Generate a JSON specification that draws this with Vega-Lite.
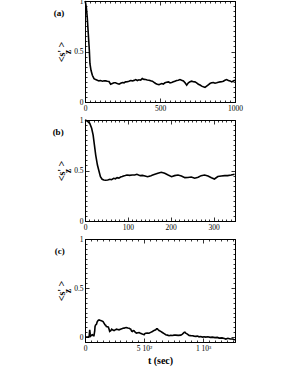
{
  "$schema": "https://vega.github.io/schema/vega-lite/v6.json",
  "padding": {"left": 52, "top": -4, "right": 5, "bottom": 5},
  "spacing": 18,
  "bounds": "flush",
  "config": {
    "view": {"stroke": "black", "strokeWidth": 1},
    "axis": {"domain": true, "domainColor": "black", "domainWidth": 1, "tickColor": "black", "tickWidth": 0.8, "grid": false, "labelFont": "Liberation Serif", "labelFontSize": 7.5, "labelColor": "black", "labelFlush": false, "labelOverlap": false, "labelPadding": 6, "titleFont": "Liberation Serif", "titleFontWeight": "bold", "titleColor": "black", "titleFontSize": 10, "format": "d"},
    "line": {"color": "black", "strokeWidth": 1.6},
    "title": {"font": "Liberation Serif", "fontWeight": "bold", "fontSize": 9, "color": "black", "orient": "left", "anchor": "end", "frame": "group", "angle": 0, "align": "left", "baseline": "top", "offset": -18, "lineHeight": 8}
  },
  "datasets": {
    "a": [
      {"t":0,"v":1.0},{"t":4,"v":0.98},{"t":9,"v":0.935},{"t":15,"v":0.837},{"t":22,"v":0.673},{"t":29,"v":0.51},{"t":33,"v":0.379},{"t":40,"v":0.314},{"t":49,"v":0.265},{"t":60,"v":0.232},{"t":71,"v":0.222},{"t":82,"v":0.216},{"t":93,"v":0.209},{"t":104,"v":0.212},{"t":116,"v":0.206},{"t":127,"v":0.21},{"t":138,"v":0.209},{"t":149,"v":0.205},{"t":160,"v":0.203},{"t":171,"v":0.176},{"t":182,"v":0.183},{"t":193,"v":0.19},{"t":204,"v":0.19},{"t":215,"v":0.182},{"t":227,"v":0.176},{"t":238,"v":0.186},{"t":249,"v":0.193},{"t":260,"v":0.19},{"t":271,"v":0.199},{"t":282,"v":0.2},{"t":293,"v":0.206},{"t":304,"v":0.213},{"t":316,"v":0.209},{"t":327,"v":0.214},{"t":338,"v":0.222},{"t":349,"v":0.213},{"t":360,"v":0.22},{"t":371,"v":0.216},{"t":382,"v":0.232},{"t":393,"v":0.224},{"t":404,"v":0.222},{"t":415,"v":0.218},{"t":427,"v":0.216},{"t":438,"v":0.21},{"t":449,"v":0.206},{"t":460,"v":0.195},{"t":471,"v":0.183},{"t":482,"v":0.176},{"t":493,"v":0.172},{"t":511,"v":0.183},{"t":522,"v":0.178},{"t":533,"v":0.19},{"t":544,"v":0.196},{"t":556,"v":0.199},{"t":567,"v":0.19},{"t":578,"v":0.193},{"t":589,"v":0.2},{"t":600,"v":0.206},{"t":611,"v":0.212},{"t":622,"v":0.216},{"t":633,"v":0.222},{"t":644,"v":0.215},{"t":656,"v":0.209},{"t":667,"v":0.19},{"t":678,"v":0.167},{"t":689,"v":0.19},{"t":700,"v":0.2},{"t":711,"v":0.206},{"t":722,"v":0.2},{"t":733,"v":0.199},{"t":744,"v":0.19},{"t":756,"v":0.176},{"t":767,"v":0.168},{"t":778,"v":0.157},{"t":789,"v":0.15},{"t":800,"v":0.144},{"t":811,"v":0.157},{"t":822,"v":0.17},{"t":833,"v":0.183},{"t":844,"v":0.19},{"t":856,"v":0.193},{"t":867,"v":0.186},{"t":878,"v":0.19},{"t":889,"v":0.196},{"t":900,"v":0.199},{"t":911,"v":0.2},{"t":922,"v":0.206},{"t":933,"v":0.215},{"t":944,"v":0.222},{"t":956,"v":0.213},{"t":967,"v":0.209},{"t":978,"v":0.199},{"t":989,"v":0.208},{"t":1000,"v":0.216}
    ],
    "b": [
      {"t":0,"v":1.0},{"t":5,"v":0.99},{"t":11,"v":0.967},{"t":15.5,"v":0.918},{"t":19,"v":0.851},{"t":22,"v":0.752},{"t":25,"v":0.653},{"t":29,"v":0.554},{"t":33,"v":0.488},{"t":36,"v":0.439},{"t":40,"v":0.413},{"t":44,"v":0.406},{"t":48,"v":0.404},{"t":53,"v":0.406},{"t":58,"v":0.413},{"t":62,"v":0.409},{"t":67,"v":0.423},{"t":71,"v":0.418},{"t":75,"v":0.429},{"t":79,"v":0.425},{"t":83,"v":0.436},{"t":87,"v":0.44},{"t":90,"v":0.446},{"t":94,"v":0.45},{"t":98,"v":0.455},{"t":104,"v":0.452},{"t":110,"v":0.456},{"t":116,"v":0.455},{"t":121,"v":0.462},{"t":125,"v":0.455},{"t":129,"v":0.449},{"t":134,"v":0.452},{"t":140,"v":0.446},{"t":146,"v":0.439},{"t":150,"v":0.444},{"t":154,"v":0.449},{"t":158,"v":0.455},{"t":163,"v":0.462},{"t":170,"v":0.472},{"t":178,"v":0.482},{"t":186,"v":0.472},{"t":194,"v":0.455},{"t":202,"v":0.439},{"t":209,"v":0.449},{"t":217,"v":0.455},{"t":225,"v":0.446},{"t":233,"v":0.429},{"t":240,"v":0.431},{"t":248,"v":0.436},{"t":256,"v":0.423},{"t":264,"v":0.433},{"t":271,"v":0.449},{"t":279,"v":0.455},{"t":287,"v":0.446},{"t":295,"v":0.429},{"t":302,"v":0.416},{"t":310,"v":0.44},{"t":318,"v":0.446},{"t":326,"v":0.449},{"t":333,"v":0.449},{"t":341,"v":0.455},{"t":349,"v":0.462}
    ],
    "c": [
      {"t":0,"v":0.0},{"t":28,"v":0.0},{"t":35,"v":0.005},{"t":40,"v":0.074},{"t":44,"v":0.03},{"t":48,"v":0.01},{"t":55,"v":0.02},{"t":62,"v":0.024},{"t":70,"v":0.015},{"t":76,"v":0.014},{"t":82,"v":0.06},{"t":85,"v":0.108},{"t":90,"v":0.124},{"t":97,"v":0.13},{"t":104,"v":0.158},{"t":112,"v":0.17},{"t":119,"v":0.175},{"t":126,"v":0.172},{"t":133,"v":0.168},{"t":143,"v":0.165},{"t":153,"v":0.158},{"t":162,"v":0.14},{"t":170,"v":0.124},{"t":176,"v":0.12},{"t":181,"v":0.108},{"t":190,"v":0.105},{"t":198,"v":0.101},{"t":204,"v":0.08},{"t":209,"v":0.057},{"t":218,"v":0.065},{"t":226,"v":0.081},{"t":236,"v":0.072},{"t":246,"v":0.067},{"t":256,"v":0.074},{"t":266,"v":0.081},{"t":277,"v":0.078},{"t":288,"v":0.074},{"t":300,"v":0.08},{"t":311,"v":0.084},{"t":321,"v":0.09},{"t":331,"v":0.091},{"t":340,"v":0.095},{"t":350,"v":0.098},{"t":362,"v":0.093},{"t":373,"v":0.091},{"t":380,"v":0.085},{"t":387,"v":0.081},{"t":395,"v":0.06},{"t":401,"v":0.057},{"t":408,"v":0.066},{"t":415,"v":0.064},{"t":425,"v":0.05},{"t":435,"v":0.04},{"t":447,"v":0.045},{"t":458,"v":0.047},{"t":469,"v":0.04},{"t":480,"v":0.034},{"t":490,"v":0.03},{"t":500,"v":0.024},{"t":507,"v":0.035},{"t":514,"v":0.04},{"t":528,"v":0.042},{"t":542,"v":0.04},{"t":556,"v":0.048},{"t":571,"v":0.057},{"t":585,"v":0.068},{"t":599,"v":0.074},{"t":606,"v":0.084},{"t":613,"v":0.084},{"t":620,"v":0.075},{"t":627,"v":0.067},{"t":641,"v":0.058},{"t":655,"v":0.047},{"t":670,"v":0.035},{"t":684,"v":0.024},{"t":698,"v":0.02},{"t":712,"v":0.014},{"t":726,"v":0.018},{"t":740,"v":0.017},{"t":754,"v":0.02},{"t":768,"v":0.02},{"t":790,"v":0.018},{"t":811,"v":0.02},{"t":825,"v":0.03},{"t":839,"v":0.047},{"t":846,"v":0.05},{"t":853,"v":0.04},{"t":867,"v":0.03},{"t":881,"v":0.017},{"t":895,"v":0.015},{"t":910,"v":0.014},{"t":924,"v":0.01},{"t":938,"v":0.007},{"t":952,"v":0.01},{"t":966,"v":0.003},{"t":980,"v":0.006},{"t":994,"v":0.0},{"t":1009,"v":0.004},{"t":1023,"v":0.0},{"t":1040,"v":0.003},{"t":1060,"v":-0.003},{"t":1079,"v":0.0},{"t":1100,"v":-0.005},{"t":1120,"v":-0.003},{"t":1136,"v":-0.01},{"t":1160,"v":-0.008},{"t":1180,"v":-0.015},{"t":1192,"v":-0.02},{"t":1210,"v":-0.012},{"t":1230,"v":-0.02},{"t":1249,"v":-0.02},{"t":1260,"v":-0.025},{"t":1270,"v":-0.027}
    ]
  },
  "vconcat": [
    {
      "width": 150, "height": 101,
      "title": {"text": ["", "(a)"]},
      "data": {"name": "a"},
      "layer": [
        {
          "mark": {"type": "line"},
          "encoding": {
            "x": {"field": "t", "type": "quantitative", "scale": {"domain": [0, 1000], "nice": false, "zero": false},
              "axis": {"orient": "bottom", "title": null, "values": [0,33.33,66.67,100,133.33,166.67,200,233.33,266.67,300,333.33,366.67,400,433.33,466.67,500,533.33,566.67,600,633.33,666.67,700,733.33,766.67,800,833.33,866.67,900,933.33,966.67,1000],
                "labelExpr": "datum.value === 0 || datum.value === 500 || datum.value === 1000 ? datum.label : ''",
                "tickSize": {"condition": {"test": "datum.value === 0 || datum.value === 500 || datum.value === 1000", "value": -4}, "value": -2}}},
            "y": {"field": "v", "type": "quantitative", "scale": {"domain": [0, 1], "nice": false, "zero": false},
              "axis": {"orient": "left", "title": ["<s' >", "     z"], "titleLineHeight": 6, "titlePadding": 1, "values": [0,0.05,0.1,0.15,0.2,0.25,0.3,0.35,0.4,0.45,0.5,0.55,0.6,0.65,0.7,0.75,0.8,0.85,0.9,0.95,1],
                "labelExpr": "datum.value === 0 ? '0' : datum.value === 0.5 ? '0.5' : datum.value === 1 ? '1' : ''",
                "tickSize": {"condition": {"test": "datum.value === 0 || datum.value === 0.5 || datum.value === 1", "value": -4}, "value": -2}}}
          }
        },
        {
          "mark": {"type": "line", "opacity": 0},
          "encoding": {
            "x": {"field": "t", "type": "quantitative", "axis": {"orient": "top", "title": null, "labels": false, "values": [0,33.33,66.67,100,133.33,166.67,200,233.33,266.67,300,333.33,366.67,400,433.33,466.67,500,533.33,566.67,600,633.33,666.67,700,733.33,766.67,800,833.33,866.67,900,933.33,966.67,1000],
              "tickSize": {"condition": {"test": "datum.value === 0 || datum.value === 500 || datum.value === 1000", "value": -4}, "value": -2}}},
            "y": {"field": "v", "type": "quantitative", "axis": {"orient": "right", "title": null, "labels": false, "values": [0,0.05,0.1,0.15,0.2,0.25,0.3,0.35,0.4,0.45,0.5,0.55,0.6,0.65,0.7,0.75,0.8,0.85,0.9,0.95,1],
              "tickSize": {"condition": {"test": "datum.value === 0 || datum.value === 0.5 || datum.value === 1", "value": -4}, "value": -2}}}
          }
        }
      ]
    },
    {
      "width": 150, "height": 101,
      "title": {"text": ["", "(b)"]},
      "data": {"name": "b"},
      "layer": [
        {
          "mark": {"type": "line"},
          "encoding": {
            "x": {"field": "t", "type": "quantitative", "scale": {"domain": [0, 350], "nice": false, "zero": false},
              "axis": {"orient": "bottom", "title": null, "values": [0,10,20,30,40,50,60,70,80,90,100,110,120,130,140,150,160,170,180,190,200,210,220,230,240,250,260,270,280,290,300,310,320,330,340,350],
                "labelExpr": "datum.value % 100 === 0 ? datum.label : ''",
                "tickSize": {"condition": {"test": "datum.value % 100 === 0", "value": -4}, "value": -2}}},
            "y": {"field": "v", "type": "quantitative", "scale": {"domain": [0, 1], "nice": false, "zero": false},
              "axis": {"orient": "left", "title": ["<s' >", "     z"], "titleLineHeight": 6, "titlePadding": 1, "values": [0,0.05,0.1,0.15,0.2,0.25,0.3,0.35,0.4,0.45,0.5,0.55,0.6,0.65,0.7,0.75,0.8,0.85,0.9,0.95,1],
                "labelExpr": "datum.value === 0 ? '0' : datum.value === 0.5 ? '0.5' : datum.value === 1 ? '1' : ''",
                "tickSize": {"condition": {"test": "datum.value === 0 || datum.value === 0.5 || datum.value === 1", "value": -4}, "value": -2}}}
          }
        },
        {
          "mark": {"type": "line", "opacity": 0},
          "encoding": {
            "x": {"field": "t", "type": "quantitative", "axis": {"orient": "top", "title": null, "labels": false, "values": [0,10,20,30,40,50,60,70,80,90,100,110,120,130,140,150,160,170,180,190,200,210,220,230,240,250,260,270,280,290,300,310,320,330,340,350],
              "tickSize": {"condition": {"test": "datum.value % 100 === 0", "value": -4}, "value": -2}}},
            "y": {"field": "v", "type": "quantitative", "axis": {"orient": "right", "title": null, "labels": false, "values": [0,0.05,0.1,0.15,0.2,0.25,0.3,0.35,0.4,0.45,0.5,0.55,0.6,0.65,0.7,0.75,0.8,0.85,0.9,0.95,1],
              "tickSize": {"condition": {"test": "datum.value === 0 || datum.value === 0.5 || datum.value === 1", "value": -4}, "value": -2}}}
          }
        }
      ]
    },
    {
      "width": 150, "height": 103,
      "title": {"text": ["", "(c)"]},
      "data": {"name": "c"},
      "layer": [
        {
          "mark": {"type": "line"},
          "encoding": {
            "x": {"field": "t", "type": "quantitative", "scale": {"domain": [0, 1270], "nice": false, "zero": false},
              "axis": {"orient": "bottom", "title": "t  (sec)", "titlePadding": 2, "values": [0,50,100,150,200,250,300,350,400,450,500,550,600,650,700,750,800,850,900,950,1000,1050,1100,1150,1200,1250],
                "labelExpr": "datum.value === 0 ? '0' : datum.value === 500 ? '5 10²' : datum.value === 1000 ? '1 10³' : ''",
                "tickSize": {"condition": {"test": "datum.value % 500 === 0", "value": -4}, "value": -2}}},
            "y": {"field": "v", "type": "quantitative", "scale": {"domain": [-0.05, 1], "nice": false, "zero": false},
              "axis": {"orient": "left", "title": ["<s' >", "     z"], "titleLineHeight": 6, "titlePadding": 1, "values": [0,0.05,0.1,0.15,0.2,0.25,0.3,0.35,0.4,0.45,0.5,0.55,0.6,0.65,0.7,0.75,0.8,0.85,0.9,0.95,1],
                "labelExpr": "datum.value === 0 ? '0' : datum.value === 0.5 ? '0.5' : datum.value === 1 ? '1' : ''",
                "tickSize": {"condition": {"test": "datum.value === 0 || datum.value === 0.5 || datum.value === 1", "value": -4}, "value": -2}}}
          }
        },
        {
          "mark": {"type": "line", "opacity": 0},
          "encoding": {
            "x": {"field": "t", "type": "quantitative", "axis": {"orient": "top", "title": null, "labels": false, "values": [0,50,100,150,200,250,300,350,400,450,500,550,600,650,700,750,800,850,900,950,1000,1050,1100,1150,1200,1250],
              "tickSize": {"condition": {"test": "datum.value % 500 === 0", "value": -4}, "value": -2}}},
            "y": {"field": "v", "type": "quantitative", "axis": {"orient": "right", "title": null, "labels": false, "values": [0,0.05,0.1,0.15,0.2,0.25,0.3,0.35,0.4,0.45,0.5,0.55,0.6,0.65,0.7,0.75,0.8,0.85,0.9,0.95,1],
              "tickSize": {"condition": {"test": "datum.value === 0 || datum.value === 0.5 || datum.value === 1", "value": -4}, "value": -2}}}
          }
        }
      ]
    }
  ]
}
